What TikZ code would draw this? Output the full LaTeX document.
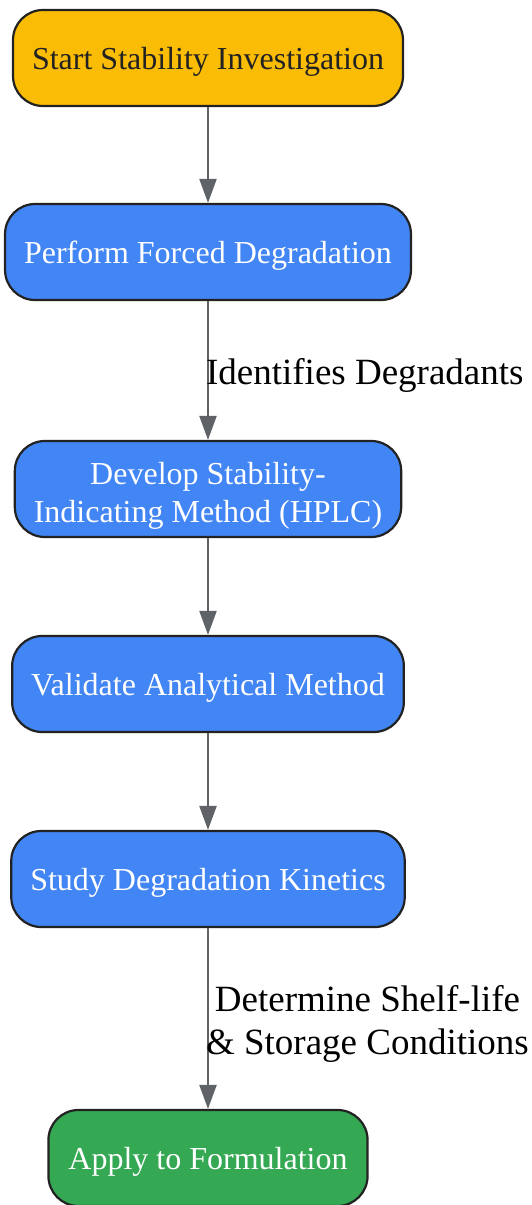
\documentclass[tikz,border=0pt]{standalone}
\usepackage{fontspec}
\setmainfont{Liberation Serif}
\usetikzlibrary{arrows.meta,positioning}
\definecolor{gyellow}{HTML}{FBBC05}
\definecolor{gblue}{HTML}{4285F4}
\definecolor{ggreen}{HTML}{34A853}
\definecolor{edgegray}{HTML}{5F6368}
\definecolor{rimdark}{HTML}{222222}
\newcommand{\liftstrut}{\rule{0pt}{30pt}}
\tikzset{
  stage/.style={draw=rimdark,line width=2.2pt,rounded corners=30pt,minimum height=96pt,
    inner xsep=19pt,align=center,font=\fontsize{32}{38}\selectfont,text=white},
  flow/.style={color=edgegray,line width=2.2pt,-{Triangle[length=24pt,width=17pt]}},
  note/.style={font=\fontsize{37}{43}\selectfont,text=black,align=center,anchor=west,inner sep=0pt,xshift=-3pt,yshift=-5pt}
}
\begin{document}
\begin{tikzpicture}[x=1pt,y=-1pt,node distance=195pt,on grid]
   \useasboundingbox (0,0) rectangle (532,1205);
   \node[stage,fill=gyellow,text=rimdark] (start) at (208,58) {\liftstrut Start Stability Investigation};
   \node[stage,fill=gblue] (forced) [below=194pt of start] {\liftstrut Perform Forced Degradation};
   \node[stage,fill=gblue] (method) [below=237pt of forced] {\rule{0pt}{36pt}Develop Stability-\\Indicating Method (HPLC)};
   \node[stage,fill=gblue] (valid) [below=of method] {\liftstrut Validate Analytical Method};
   \node[stage,fill=gblue] (kinet) [below=of valid] {\liftstrut Study Degradation Kinetics};
   \node[stage,fill=ggreen,inner xsep=20pt] (apply) [below=279pt of kinet] {\liftstrut Apply to Formulation};
   \path[flow]
    (start) edge (forced)
    (forced) edge node[note] {Identifies Degradants} (method)
    (method) edge (valid)
    (valid) edge (kinet)
    (kinet) edge node[note] {Determine Shelf-life\\\& Storage Conditions} (apply);
\end{tikzpicture}
\end{document}
